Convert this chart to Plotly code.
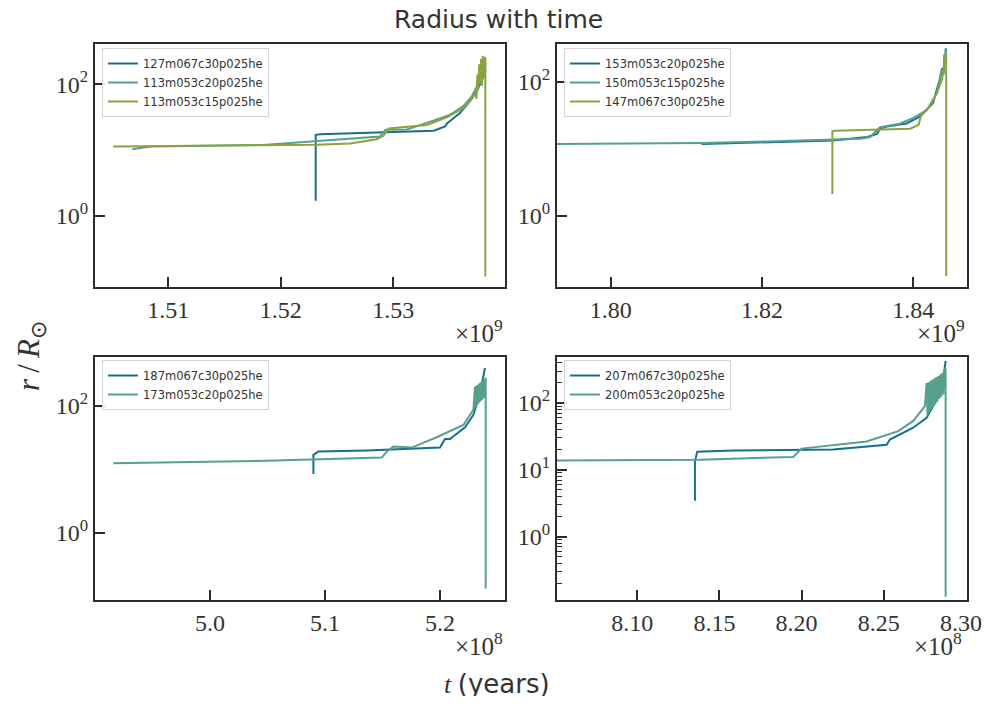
import plotly.graph_objects as go

# ---------------- data (time in units of the axis multiplier) ----------------
# Top-left panel (x in 1e9 yr)
tl_blue_name = "127m067c30p025he"
tl_blue_t = [1.5231, 1.5231, 1.5235, 1.5294, 1.5336, 1.5346, 1.5348, 1.5359, 1.5368, 1.5374, 1.5379, 1.5382]
tl_blue_r = [1.7, 17.0, 17.4, 18.4, 19.6, 22.8, 25.6, 36, 55, 77, 117, 209]

tl_teal_name = "113m053c20p025he"
tl_teal_t = [1.5068, 1.5084, 1.5187, 1.5232, 1.5288, 1.5293, 1.5312, 1.5333, 1.5350, 1.5362, 1.5370,
             1.5374, 1.53755, 1.5377, 1.53785, 1.5380, 1.53815, 1.5382]
tl_teal_r = [10.3, 11.3, 12.0, 13.5, 16.0, 20.3, 20.5, 27, 34, 46, 66,
             90, 130, 100, 170, 120, 190, 150]

tl_olive_name = "113m053c15p025he"
tl_olive_t = [1.5051, 1.5120, 1.5183, 1.5232, 1.5262, 1.5285, 1.5291, 1.5296, 1.5330, 1.5348, 1.5362,
              1.5368, 1.5373, 1.53740, 1.53748, 1.53756, 1.53764, 1.53772, 1.53780, 1.53788,
              1.53796, 1.53804, 1.53812, 1.53818, 1.53818]
tl_olive_r = [11.3, 11.6, 12.0, 12.0, 12.6, 14.6, 16.4, 21.2, 24, 31.6, 43,
              55, 73, 60, 140, 85, 200, 110, 240, 95,
              270, 150, 230, 260, 0.12]

# Top-right panel (x in 1e9 yr)
tr_blue_name = "153m053c20p025he"
tr_blue_t = [1.8120, 1.8206, 1.8294, 1.8339, 1.8352, 1.8356, 1.8365, 1.8391, 1.8408, 1.8426, 1.8435,
             1.8438, 1.8440, 1.8441, 1.8442, 1.8443]
tr_blue_r = [11.8, 12.6, 13.3, 15.0, 16.7, 20.0, 21.5, 24.0, 30.0, 48, 110,
             160, 130, 230, 180, 320]

tr_teal_name = "150m053c15p025he"
tr_teal_t = [1.7900, 1.8120, 1.8206, 1.8294, 1.8330, 1.8343, 1.8352, 1.8356, 1.8382, 1.8400, 1.8418,
             1.8431, 1.8436, 1.8438, 1.8440, 1.8441, 1.8442, 1.8443]
tr_teal_r = [11.7, 12.2, 12.9, 13.6, 14.1, 15.0, 19.3, 21.0, 23.7, 29, 38,
             68, 120, 152, 140, 260, 200, 305]

tr_olive_name = "147m067c30p025he"
tr_olive_t = [1.8293, 1.8293, 1.8296, 1.8396, 1.8407, 1.8410, 1.8422, 1.8431, 1.8438, 1.8441,
              1.8443, 1.84435, 1.84435]
tr_olive_r = [2.1, 18.2, 18.6, 20.0, 22.9, 31, 43, 68, 110, 170,
              240, 270, 0.124]

# Bottom-left panel (x in 1e8 yr)
bl_blue_name = "187m067c30p025he"
bl_blue_t = [5.0899, 5.0899, 5.0942, 5.1363, 5.2000, 5.2043, 5.2087, 5.2217, 5.2290, 5.2348, 5.2391]
bl_blue_r = [8.4, 16.9, 19.0, 19.8, 22.0, 30.0, 30.0, 46, 72, 160, 395]

bl_teal_name = "173m053c20p025he"
bl_teal_t = [4.9159, 5.0493, 5.1493, 5.1537, 5.1594, 5.1754, 5.1971, 5.2203, 5.2290, 5.2304,
             5.2308, 5.2312, 5.2316, 5.2320, 5.2325, 5.2330, 5.2335, 5.2340, 5.2345, 5.2350,
             5.2355, 5.2360, 5.2365, 5.2370, 5.2375, 5.2380, 5.2385, 5.2390, 5.2394, 5.2397, 5.2397]
bl_teal_r = [12.5, 13.6, 15.3, 19.0, 22.8, 22.0, 32, 50, 87, 200,
             95, 205, 100, 210, 105, 215, 110, 222, 115, 230,
             120, 238, 125, 245, 130, 255, 135, 265, 170, 280, 0.132]

# Bottom-right panel (x in 1e8 yr)
br_blue_name = "207m067c30p025he"
br_blue_t = [8.1351, 8.1351, 8.1365, 8.1584, 8.2192, 8.2517, 8.2537, 8.2679, 8.2760, 8.2821, 8.2861, 8.2876]
br_blue_r = [3.44, 13.4, 18.6, 19.4, 20.1, 23.7, 28.4, 42.7, 60, 114, 227, 428]

br_teal_name = "200m053c20p025he"
br_teal_t = [8.0400, 8.1381, 8.1949, 8.2000, 8.2395, 8.2588, 8.2679, 8.2750,
             8.2760, 8.2766, 8.2772, 8.2778, 8.2784, 8.2790, 8.2796, 8.2802, 8.2808, 8.2814,
             8.2820, 8.2826, 8.2832, 8.2838, 8.2844, 8.2850, 8.2856, 8.2862, 8.2868, 8.2874,
             8.2876, 8.2876]
br_teal_r = [13.8, 14.2, 15.6, 20.8, 26.5, 38, 54, 90,
             200, 66, 205, 72, 215, 80, 225, 88, 235, 95,
             245, 105, 255, 115, 270, 125, 285, 135, 300, 320,
             330, 0.125]

# tick labels
tl_xticks = [1.51, 1.52, 1.53]
tr_xticks = [1.80, 1.82, 1.84]
bl_xticks = [5.0, 5.1, 5.2]
br_xticks = [8.10, 8.15, 8.20, 8.25, 8.30]
tl_xlabels = ["1.51", "1.52", "1.53"]
tr_xlabels = ["1.80", "1.82", "1.84"]
bl_xlabels = ["5.0", "5.1", "5.2"]
br_xlabels = ["8.10", "8.15", "8.20", "8.25", "8.30"]
y_ticks_2 = [1, 100]
y_labels_2 = ["10<sup>0</sup>", "10<sup>2</sup>"]
y_ticks_3 = [1, 10, 100]
y_labels_3 = ["10<sup>0</sup>", "10<sup>1</sup>", "10<sup>2</sup>"]
br_minor = [m * 10 ** e for e in (-1, 0, 1, 2) for m in range(2, 10)]

BLUE = "#166f8f"
TEAL = "#56a18e"
OLIVE = "#8ca33d"

# The page adds an 8px body margin, so the figure is drawn 16px smaller and
# all target positions (given in window pixels) are shifted by 8px.
OFF = 8
W, H = 992 - 2 * OFF, 704 - 2 * OFF
FRAME = "#2a2a2a"
SERIF = "Liberation Serif"
SANS = "DejaVu Sans"


def px(x):
    return (x - OFF) / W


def py(y):
    return 1 - (y - OFF) / H


fig = go.Figure()

panels = [
    ("", "legend", [(tl_blue_name, tl_blue_t, tl_blue_r, BLUE),
                    (tl_teal_name, tl_teal_t, tl_teal_r, TEAL),
                    (tl_olive_name, tl_olive_t, tl_olive_r, OLIVE)]),
    ("2", "legend2", [(tr_blue_name, tr_blue_t, tr_blue_r, BLUE),
                      (tr_teal_name, tr_teal_t, tr_teal_r, TEAL),
                      (tr_olive_name, tr_olive_t, tr_olive_r, OLIVE)]),
    ("3", "legend3", [(bl_blue_name, bl_blue_t, bl_blue_r, BLUE),
                      (bl_teal_name, bl_teal_t, bl_teal_r, TEAL)]),
    ("4", "legend4", [(br_blue_name, br_blue_t, br_blue_r, BLUE),
                      (br_teal_name, br_teal_t, br_teal_r, TEAL)]),
]

for suffix, leg, series in panels:
    for name, t, r, col in series:
        fig.add_trace(go.Scatter(x=t, y=r, mode="lines", name=name,
                                 line=dict(color=col, width=2),
                                 xaxis="x" + suffix, yaxis="y" + suffix,
                                 legend=leg, showlegend=True))

xdom_l = [px(95), px(505)]
xdom_r = [px(557), px(967)]
ydom_t = [py(287), py(44)]
ydom_b = [py(600), py(357)]

# automargin off: otherwise the "8.30" label near the edge widens the right margin
axis_common = dict(showline=True, mirror=True, linecolor=FRAME, linewidth=2,
                   ticks="inside", ticklen=10, tickwidth=1.5, tickcolor=FRAME,
                   showgrid=False, zeroline=False, automargin=False,
                   tickfont=dict(family=SERIF, size=24, color="#333333"))

layout = dict(
    width=W, height=H, autosize=False,
    margin=dict(l=0, r=0, t=0, b=0, autoexpand=False),
    paper_bgcolor="white", plot_bgcolor="white",
    xaxis=dict(domain=xdom_l, anchor="y", range=[1.50348, 1.53993],
               tickmode="array", tickvals=tl_xticks, ticktext=tl_xlabels, **axis_common),
    yaxis=dict(domain=ydom_t, anchor="x", type="log", range=[-1.08, 2.61],
               tickmode="array", tickvals=y_ticks_2, ticktext=y_labels_2, **axis_common),
    xaxis2=dict(domain=xdom_r, anchor="y2", range=[1.7929, 1.8471],
                tickmode="array", tickvals=tr_xticks, ticktext=tr_xlabels, **axis_common),
    yaxis2=dict(domain=ydom_t, anchor="x2", type="log", range=[-1.07, 2.57],
                tickmode="array", tickvals=y_ticks_2, ticktext=y_labels_2, **axis_common),
    xaxis3=dict(domain=xdom_l, anchor="y3", range=[4.90, 5.2565],
                tickmode="array", tickvals=bl_xticks, ticktext=bl_xlabels, **axis_common),
    yaxis3=dict(domain=ydom_b, anchor="x3", type="log", range=[-1.06, 2.77],
                tickmode="array", tickvals=y_ticks_2, ticktext=y_labels_2, **axis_common),
    xaxis4=dict(domain=xdom_r, anchor="y4", range=[8.0512, 8.3006],
                tickmode="array", tickvals=br_xticks, ticktext=br_xlabels,
                ticklabelshift=-5, **axis_common),
    yaxis4=dict(domain=ydom_b, anchor="x4", type="log", range=[-0.95, 2.69],
                tickmode="array", tickvals=y_ticks_3, ticktext=y_labels_3,
                minor=dict(tickmode="array", tickvals=br_minor, ticks="inside",
                           ticklen=5, tickwidth=1, tickcolor=FRAME, showgrid=False),
                **axis_common),
)

legend_common = dict(xanchor="left", yanchor="top", xref="paper", yref="paper",
                     bgcolor="rgba(255,255,255,0.85)", bordercolor="#d4d4d4", borderwidth=1,
                     font=dict(family=SANS, size=11.5, color="#333333"),
                     tracegroupgap=0, itemwidth=30)
layout["legend"] = dict(x=px(102), y=py(48), **legend_common)
layout["legend2"] = dict(x=px(564), y=py(48), **legend_common)
layout["legend3"] = dict(x=px(102), y=py(360), **legend_common)
layout["legend4"] = dict(x=px(564), y=py(360), **legend_common)

fig.update_layout(**layout)

annotations = [
    dict(text="Radius with time", x=px(498), y=py(19), xanchor="center", yanchor="middle",
         font=dict(family=SANS, size=25, color="#333333")),
    dict(text="×10<sup>9</sup>", x=px(505), y=py(331), xanchor="right", yanchor="middle",
         font=dict(family=SERIF, size=25, color="#333333")),
    dict(text="×10<sup>9</sup>", x=px(967), y=py(331), xanchor="right", yanchor="middle",
         font=dict(family=SERIF, size=25, color="#333333")),
    dict(text="×10<sup>8</sup>", x=px(505), y=py(644), xanchor="right", yanchor="middle",
         font=dict(family=SERIF, size=25, color="#333333")),
    dict(text="×10<sup>8</sup>", x=px(964), y=py(644), xanchor="right", yanchor="middle",
         font=dict(family=SERIF, size=25, color="#333333")),
    dict(text="<i>t</i> <span style='font-family:DejaVu Sans'>(years)</span>",
         x=px(497), y=py(684), xanchor="center", yanchor="middle",
         font=dict(family=SERIF, size=26, color="#333333")),
    dict(text="<i>r</i>\u2009/\u2009<i>R</i><sub>⊙</sub>", x=px(31), y=py(356), xanchor="center",
         yanchor="middle", textangle=-90,
         font=dict(family=SERIF, size=31, color="#333333")),
]
for a in annotations:
    a.update(xref="paper", yref="paper", showarrow=False)
fig.update_layout(annotations=annotations)

fig.write_html("out.html", config={"displayModeBar": False})
